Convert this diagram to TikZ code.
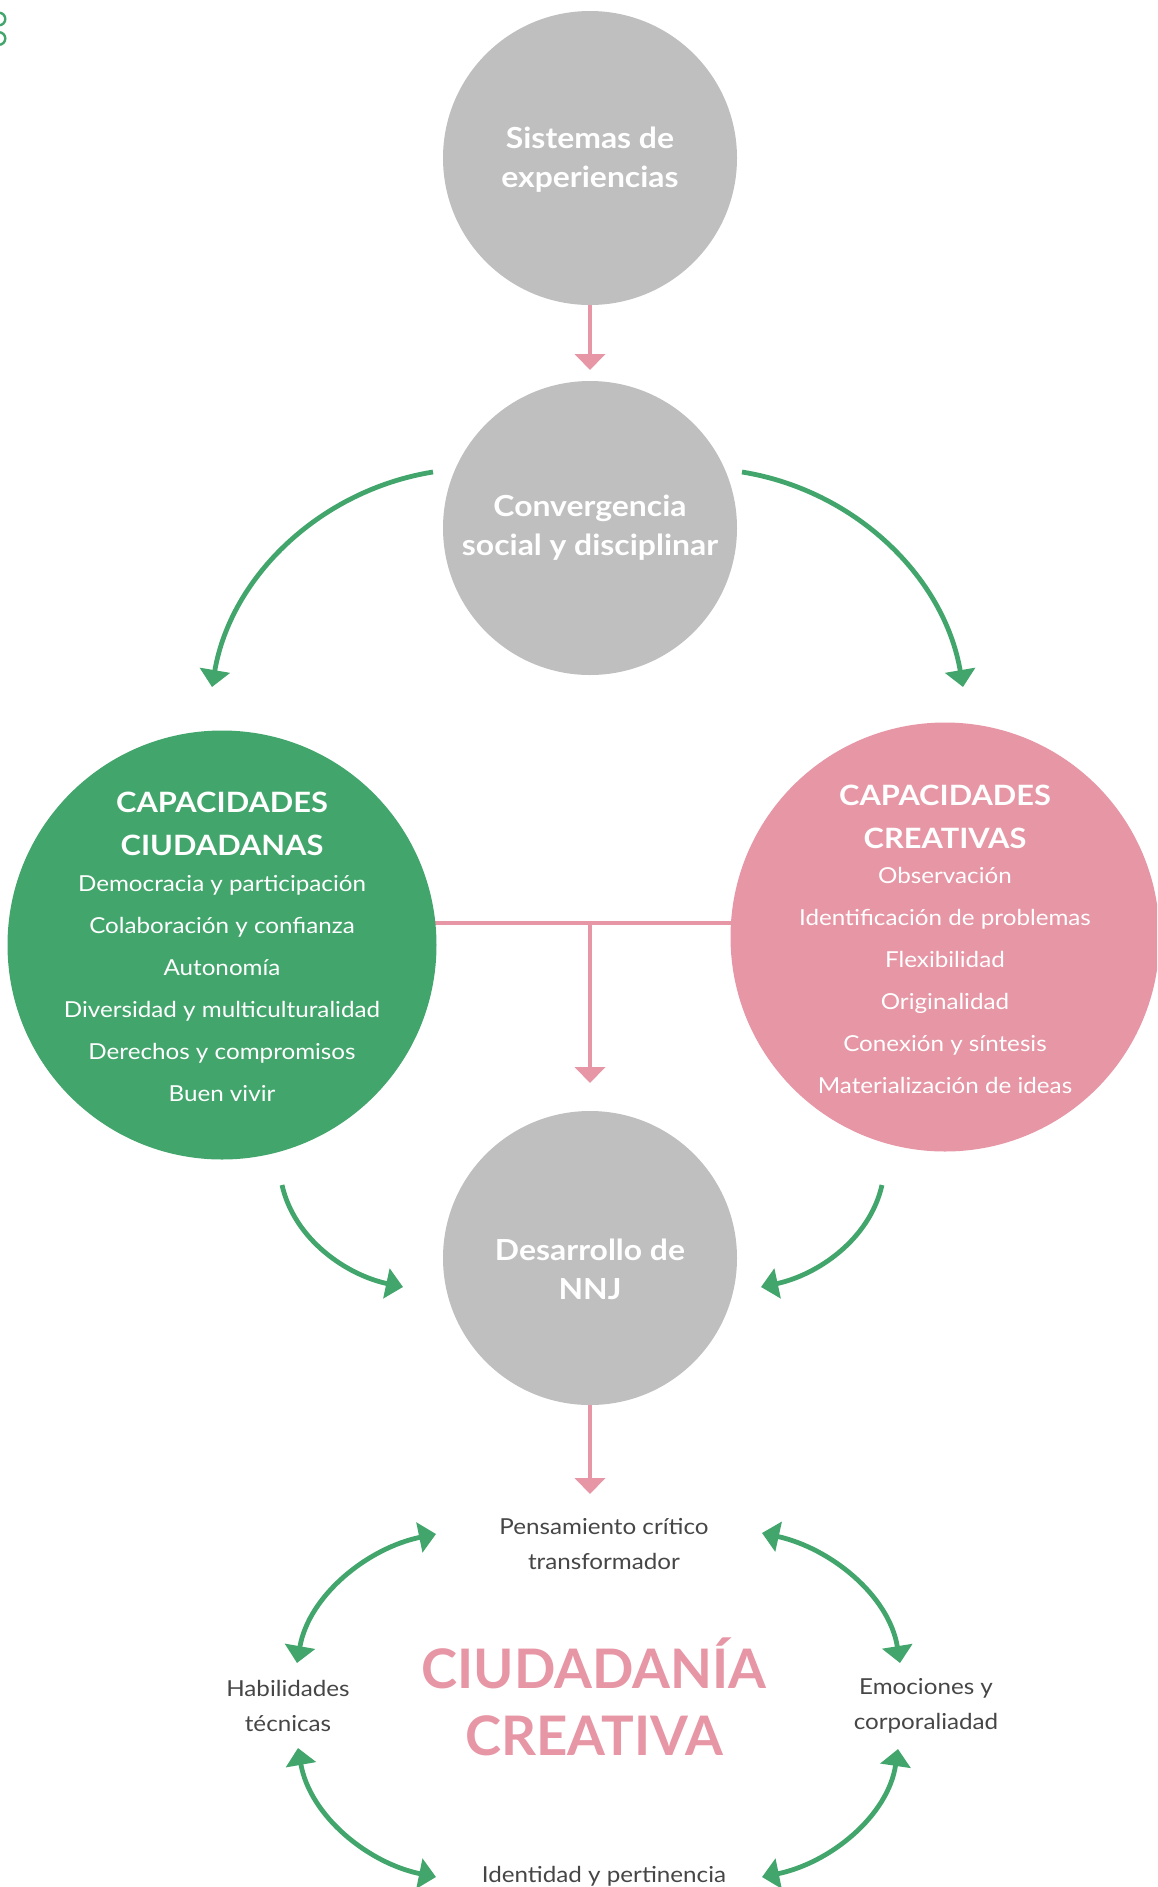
\documentclass[tikz,border=0pt]{standalone}
\usepackage{fontspec}
\setmainfont{Lato}[FakeStretch=1.1]
\newfontfamily\bigfont{Lato}
\usetikzlibrary{arrows.meta}
\definecolor{cgray}{RGB}{191,191,191}
\definecolor{cgreen}{RGB}{66,166,108}
\definecolor{cpink}{RGB}{230,150,165}
\definecolor{ctext}{RGB}{70,70,70}
\pgfdeclarelayer{bg}
\pgfsetlayers{bg,main}
\begin{document}
\begin{tikzpicture}[x=1pt,y=1pt,
  graycirc/.style={circle,fill=cgray,minimum size=294pt,inner sep=0pt},
  graytxt/.style={text=white,align=center,font=\fontsize{29}{39}\selectfont\bfseries},
  bigcirc/.style={circle,minimum size=429pt,inner sep=0pt},
  titletxt/.style={text=white,align=center,font=\fontsize{28}{43}\selectfont\bfseries},
  itemtxt/.style={text=white,align=center,font=\fontsize{22}{42}\selectfont},
  labeltxt/.style={text=ctext,align=center,font=\fontsize{22}{35}\selectfont},
  bigtxt/.style={text=cpink,align=center,font=\bigfont\fontsize{54.5}{67}\selectfont\bfseries},
  pinkarrow/.style={draw=cpink,line width=4.6pt,-{Triangle[length=16pt,width=30pt]}},
  pinkline/.style={draw=cpink,line width=4.6pt},
  greenarrow/.style={draw=cgreen,line width=4.8pt,-{Triangle[length=17pt,width=30pt]}},
  greenboth/.style={draw=cgreen,line width=4.8pt,{Triangle[length=17pt,width=30pt]}-{Triangle[length=17pt,width=30pt]}},
  ring/.style={draw=cgreen,line width=2.4pt}
]
\useasboundingbox (0,0) rectangle (1157,-1887);
\begin{scope}
\clip (0,0) rectangle (1157,-1887);
% corner rings
\draw[ring] (-1,-19) circle (6.3);
\draw[ring] (-1,-38.5) circle (6.3);

% gray circles
\node[graycirc] (sis) at (590,-158) {};
\node[graytxt] (sist) at (590,-160) {Sistemas de\\experiencias};
\node[graycirc] (conv) at (590,-528) {};
\node[graytxt] (convt) at (590,-528) {Convergencia\\social y disciplinar};
\node[graycirc] (des) at (590,-1258) {};
\node[graytxt] (dest) at (590,-1269) {Desarrollo de\\NNJ};

% big circles
\node[bigcirc,fill=cgreen] (ciu) at (222,-945) {};
\node[bigcirc,fill=cpink] (cre) at (945,-937) {};

\node[titletxt] (ciut) at (222,-823.5) {CAPACIDADES\\CIUDADANAS};
\node[itemtxt] (ciui) at (222,-989) {Democracia y participación\\Colaboración y confianza\\Autonomía\\Diversidad y multiculturalidad\\Derechos y compromisos\\Buen vivir};
\node[titletxt] (cret) at (945,-816.5) {CAPACIDADES\\CREATIVAS};
\node[itemtxt] (crei) at (945,-980.5) {Observación\\Identificación de problemas\\Flexibilidad\\Originalidad\\Conexión y síntesis\\Materialización de ideas};

% pink connectors
\coordinate (a1) at (590,-370);
\draw[pinkarrow] (sis.south) -- (a1);
\coordinate (T) at (590,-923);
\coordinate (a2) at (590,-1083);
\begin{pgfonlayer}{bg}
\draw[pinkline] (ciu.center |- T) -- (cre.center |- T);
\end{pgfonlayer}
\draw[pinkarrow] ([yshift=2.3pt]T) -- (a2);
\coordinate (a3) at (590,-1494);
\draw[pinkarrow] (des.south) -- (a3);

% green arrows top
\coordinate (gl0) at (433,-472);
\coordinate (gl1) at (212,-687);
\draw[greenarrow] (gl0) .. controls (321,-490) and (231,-576) .. (gl1);
\coordinate (gr0) at (742,-472);
\coordinate (gr1) at (963,-687);
\draw[greenarrow] (gr0) .. controls (854,-490) and (944,-576) .. (gr1);

% green arrows middle
\coordinate (ml0) at (282,-1185);
\coordinate (ml1) at (403,-1287);
\draw[greenarrow] (ml0) .. controls (294.5,-1240) and (347,-1275) .. (ml1);
\coordinate (mr0) at (882,-1185);
\coordinate (mr1) at (761,-1287);
\draw[greenarrow] (mr0) .. controls (869.5,-1240) and (817,-1275) .. (mr1);

% bottom cycle
\node[labeltxt] (pen) at (604,-1544.5) {Pensamiento crítico\\transformador};
\node[labeltxt] (hab) at (288,-1706) {Habilidades\\técnicas};
\node[labeltxt] (emo) at (926,-1706) {Emociones y\\corporaliadad};
\node[labeltxt] (ide) at (604,-1876) {Identidad y pertinencia};
\node[bigtxt] (cc) at (594,-1697) {CIUDADANÍA\\CREATIVA};

\coordinate (b1) at (436,-1534);
\coordinate (b2) at (297,-1663);
\coordinate (b3) at (298,-1748);
\coordinate (b4) at (436,-1877);
\coordinate (b5) at (762,-1533);
\coordinate (b6) at (900,-1663);
\coordinate (b7) at (898,-1749);
\coordinate (b8) at (762,-1877);
\draw[greenboth] (b1) .. controls (368,-1548) and (309,-1595) .. (b2);
\draw[greenboth] (b3) .. controls (310,-1816) and (368,-1863) .. (b4);
\draw[greenboth] (b5) .. controls (830,-1548) and (889,-1595) .. (b6);
\draw[greenboth] (b7) .. controls (888,-1816) and (830,-1863) .. (b8);
\end{scope}
\end{tikzpicture}
\end{document}
